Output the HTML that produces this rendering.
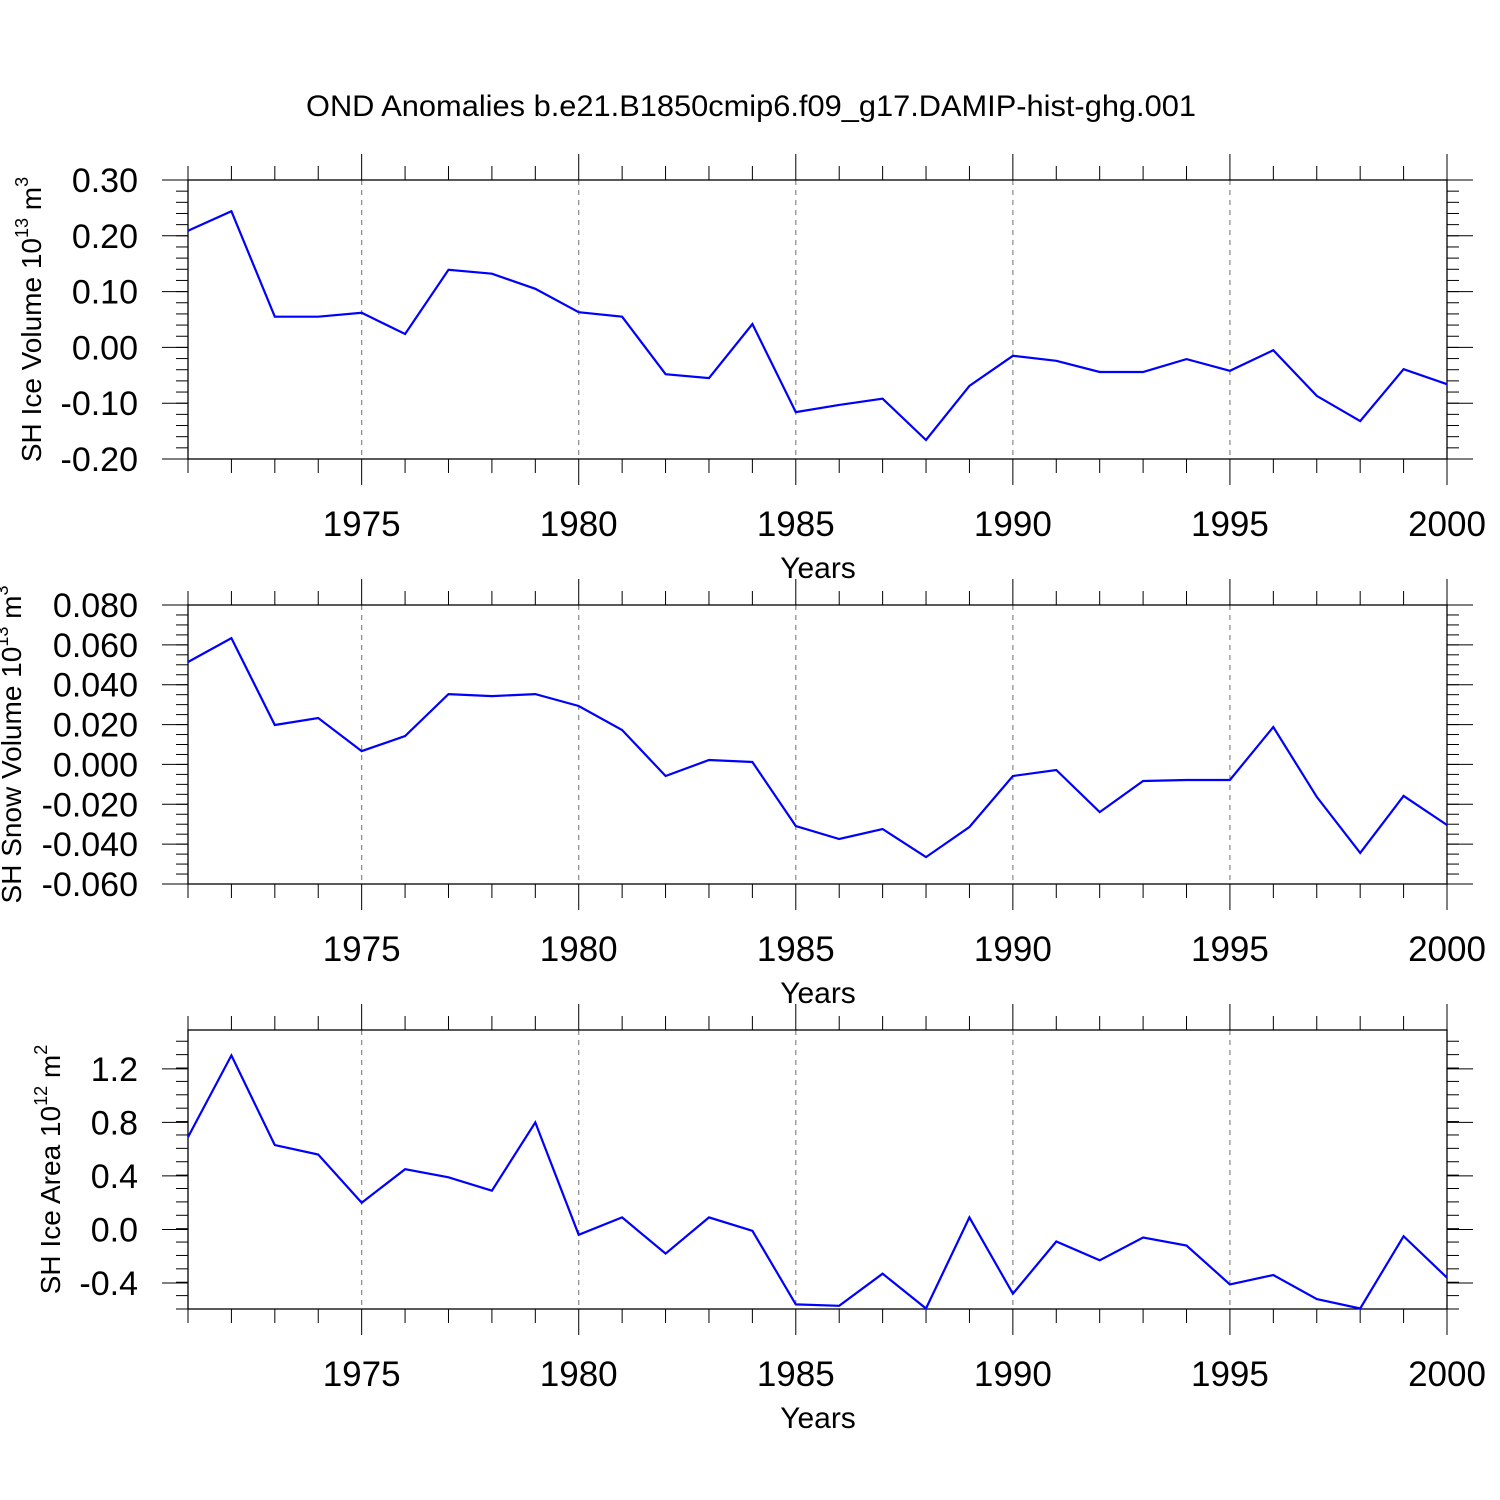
<!DOCTYPE html>
<html><head><meta charset="utf-8"><style>
html,body{margin:0;padding:0;background:#fff}
svg{display:block;font-family:"Liberation Sans",sans-serif}
</style></head><body>
<svg id="chart" width="1500" height="1500" xmlns="http://www.w3.org/2000/svg">
<text x="751" y="116" font-size="30" text-anchor="middle" textLength="890" lengthAdjust="spacingAndGlyphs">OND Anomalies b.e21.B1850cmip6.f09_g17.DAMIP-hist-ghg.001</text>
</svg>
<script>
const years = [1971,1972,1973,1974,1975,1976,1977,1978,1979,1980,1981,1982,1983,1984,1985,1986,1987,1988,1989,1990,1991,1992,1993,1994,1995,1996,1997,1998,1999,2000];
const iceVolume = [0.209,0.244,0.055,0.055,0.062,0.024,0.139,0.132,0.105,0.063,0.055,-0.048,-0.055,0.042,-0.116,-0.103,-0.092,-0.166,-0.069,-0.015,-0.024,-0.044,-0.044,-0.021,-0.042,-0.005,-0.087,-0.132,-0.039,-0.066];
const snowVolume = [0.0514,0.0634,0.0198,0.0233,0.0067,0.0142,0.0353,0.0343,0.0353,0.0293,0.0173,-0.0058,0.0022,0.0012,-0.0309,-0.0374,-0.0324,-0.0465,-0.0314,-0.0058,-0.0028,-0.0239,-0.0083,-0.0078,-0.0078,0.0188,-0.0163,-0.0444,-0.0158,-0.0304];
const iceArea = [0.69,1.30,0.63,0.56,0.20,0.45,0.39,0.29,0.80,-0.04,0.09,-0.18,0.09,-0.01,-0.56,-0.57,-0.33,-0.59,0.09,-0.48,-0.09,-0.23,-0.06,-0.12,-0.41,-0.34,-0.52,-0.59,-0.05,-0.36];
const xTicks = [1975,1980,1985,1990,1995,2000];
const iceVolTicks = [0.30,0.20,0.10,0.00,-0.10,-0.20];
const snowTicks = [0.080,0.060,0.040,0.020,0.000,-0.020,-0.040,-0.060];
const areaTicks = [1.2,0.8,0.4,0.0,-0.4];

const svg = document.getElementById('chart');
const NS = 'http://www.w3.org/2000/svg';
function mk(tag, attrs, parent){const e=document.createElementNS(NS,tag);for(const k in attrs)e.setAttribute(k,attrs[k]);(parent||svg).appendChild(e);return e;}
const X0=188, X1=1447;
const xs = v => X0 + (v-1971)/(2000-1971)*(X1-X0);

function panel(key, top, ymin, ymax, ticks, minorStep, decimals, data, titleMain, sup, unit, usup){
  const bot = top+279;
  const ys = v => bot - (v-ymin)/(ymax-ymin)*(bot-top);
  const g = mk('g',{});
  
  
  for(const t of xTicks){ if(t===2000) continue;
    const l=mk('line',{x1:xs(t),x2:xs(t),y1:top,y2:bot,stroke:'#888','stroke-width':1.2,'stroke-dasharray':'5,5'},g);
     
  }
  const fr=mk('rect',{x:X0,y:top,width:X1-X0,height:bot-top,fill:'none',stroke:'#000','stroke-width':1.3},g);
   
  for(let yr=1971; yr<=2000; yr++){
    const major = xTicks.includes(yr); const L = major?26:14; const x=xs(yr);
    mk('line',{x1:x,x2:x,y1:top-L,y2:top,stroke:'#000','stroke-width':1},g);
    mk('line',{x1:x,x2:x,y1:bot,y2:bot+L,stroke:'#000','stroke-width':1},g);
  }
  for(const t of xTicks){
    const tx=mk('text',{x:xs(t),y:bot+77,'font-size':35,'text-anchor':'middle'},g);
     
    tx.textContent=t;
  }
  const xt=mk('text',{x:818,y:bot+119,'font-size':30,'text-anchor':'middle'},g);
   
  xt.textContent='Years';
  const n=Math.round((ymax-ymin)/minorStep);
  for(let i=0;i<=n;i++){
    const v=ymin+i*minorStep; const y=ys(v); if(y<top-0.5||y>bot+0.5) continue;
    mk('line',{x1:X0-12,x2:X0,y1:y,y2:y,stroke:'#000','stroke-width':1},g);
    mk('line',{x1:X1,x2:X1+12,y1:y,y2:y,stroke:'#000','stroke-width':1},g);
  }
  for(const t of ticks){
    const y=ys(t);
    mk('line',{x1:X0-26,x2:X0,y1:y,y2:y,stroke:'#000','stroke-width':1},g);
    mk('line',{x1:X1,x2:X1+26,y1:y,y2:y,stroke:'#000','stroke-width':1},g);
    const tx=mk('text',{x:138,y:y+12,'font-size':34,'text-anchor':'end'},g);
     
    tx.textContent=t.toFixed(decimals);
  }
  const cy=(top+bot)/2;
  const yt=mk('text',{x:0,y:0,'font-size':28,'text-anchor':'middle',transform:`translate(${key==='snow'?21:(key==='area'?60:41)},${cy}) rotate(-90)`},g);
   
  yt.appendChild(document.createTextNode(titleMain));
  const ts=mk('tspan',{'font-size':18,dy:-13},yt); ts.textContent=sup;
  const tu=mk('tspan',{dy:13},yt); tu.textContent=' '+unit;
  const tu2=mk('tspan',{'font-size':18,dy:-13},yt); tu2.textContent=usup;
  const pts=data.map((v,i)=>xs(years[i]).toFixed(1)+','+ys(v).toFixed(1)).join(' ');
  const pl=mk('polyline',{points:pts,fill:'none',stroke:'#0000ff','stroke-width':2.2,'stroke-linejoin':'miter'},g);
   
}
panel('ice-volume',180,-0.20,0.30,iceVolTicks,0.02,2,iceVolume,'SH Ice Volume 10','13','m','3');
panel('snow',605,-0.060,0.080,snowTicks,0.005,3,snowVolume,'SH Snow Volume 10','13','m','3');
panel('area',1030,-0.594,1.49,areaTicks,0.1,1,iceArea,'SH Ice Area 10','12','m','2');
</script>
</body></html>
